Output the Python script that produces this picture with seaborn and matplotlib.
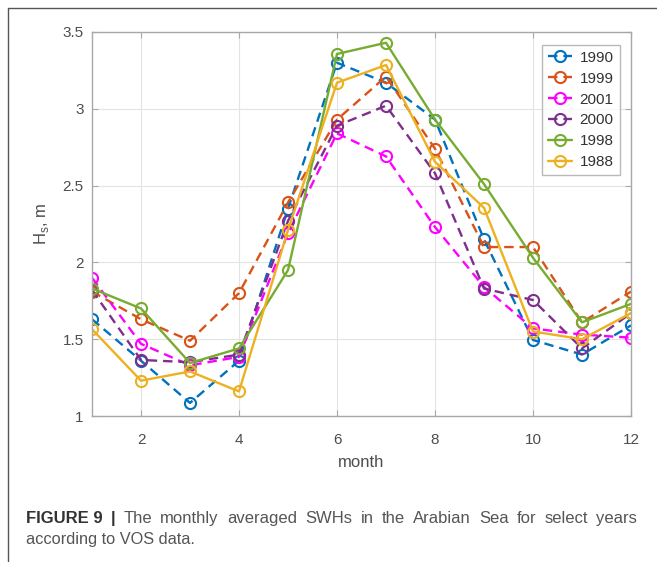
import numpy as np
import pandas as pd
import matplotlib
matplotlib.use("Agg")
import matplotlib.pyplot as plt
import seaborn as sns
from matplotlib.lines import Line2D

months = list(range(1, 13))
years = ["1990", "1999", "2001", "2000", "1998", "1988"]
v1990 = [1.63, 1.36, 1.085, 1.36, 2.35, 3.30, 3.17, 2.93, 2.15, 1.495, 1.40, 1.59]
v1999 = [1.81, 1.63, 1.49, 1.80, 2.39, 2.93, 3.21, 2.74, 2.10, 2.10, 1.61, 1.81]
v2001 = [1.90, 1.47, 1.33, 1.385, 2.19, 2.84, 2.69, 2.23, 1.84, 1.57, 1.53, 1.51]
v2000 = [1.82, 1.365, 1.35, 1.40, 2.27, 2.89, 3.02, 2.58, 1.83, 1.755, 1.44, 1.67]
v1998 = [1.83, 1.70, 1.345, 1.44, 1.95, 3.357, 3.43, 2.93, 2.51, 2.03, 1.61, 1.73]
v1988 = [1.565, 1.23, 1.29, 1.16, 2.21, 3.17, 3.285, 2.655, 2.355, 1.55, 1.50, 1.67]
series = [v1990, v1999, v2001, v2000, v1998, v1988]

colors = ["#0072BD", "#D95319", "#FF00FF", "#7E2F8E", "#77AC30", "#EDB120"]
dashed = [True, True, True, True, False, False]

caption_bold = ["FIGURE 9", "|"]
caption_line1 = "The monthly averaged SWHs in the Arabian Sea for select years"
caption_line2 = "according to VOS data."

sns.set_theme(style="whitegrid")
plt.rcParams["font.family"] = ["Liberation Sans", "DejaVu Sans"]

W, H = 657, 562
fig = plt.figure(figsize=(W/100, H/100), dpi=100)
ax = fig.add_axes([92/W, 1-416/H, (631-92)/W, (416-32)/H])

for yr, vals, c, d in zip(years, series, colors, dashed):
    df = pd.DataFrame({"month": months, "H": vals})
    sns.lineplot(data=df, x="month", y="H", ax=ax, color=c,
                 marker="o", markersize=8, markerfacecolor="none",
                 markeredgecolor=c, markeredgewidth=1.5, linewidth=1.7,
                 label=yr)
    if d:
        ax.lines[-1].set_linestyle((0, (4, 2.5)))

ax.set_xlim(1, 12)
ax.set_ylim(1, 3.5)
ax.set_xticks([2, 4, 6, 8, 10, 12])
ax.set_yticks([1, 1.5, 2, 2.5, 3, 3.5])
ax.set_yticklabels(["1", "1.5", "2", "2.5", "3", "3.5"])
ax.set_facecolor("white")
ax.grid(True, color="#e3e3e3", linewidth=0.8)
for s in ax.spines.values():
    s.set_color("#a8a8a8")
    s.set_linewidth(1.0)
ax.tick_params(axis="both", direction="in", length=4, width=0.8, color="#a8a8a8",
               labelsize=11, labelcolor="#4d4d4d")
ax.tick_params(axis="x", pad=12)
ax.tick_params(axis="y", pad=6)
ax.tick_params(axis="both", which="both", top=True, right=True, bottom=True, left=True)
ax.set_xlabel("month", fontsize=12, color="#4d4d4d", labelpad=6)
ax.set_ylabel("H$_\\mathregular{s}$, m", fontsize=12, color="#4d4d4d", labelpad=8)

leg = ax.legend(loc="upper right", bbox_to_anchor=(0.985, 0.975), fontsize=11,
                frameon=True, fancybox=False, edgecolor="#a8a8a8",
                handlelength=1.6, handletextpad=0.5, borderpad=0.4,
                labelspacing=0.45, borderaxespad=0.2)
leg.get_frame().set_linewidth(1.0)
for t in leg.get_texts():
    t.set_color("#333333")

# figure frame (top and left)
fig.add_artist(Line2D([8/W, 1], [1-8/H, 1-8/H], color="#555555", linewidth=1.0))
fig.add_artist(Line2D([8/W, 8/W], [0, 1-8/H], color="#555555", linewidth=1.0))

# justified caption line 1
renderer = fig.canvas.get_renderer()
x0, x1 = 26, 637
y1 = 1 - 523/H
tokens = [(w, True) for w in caption_bold] + [(w, False) for w in caption_line1.split()]
arts = []
for word, bold in tokens:
    t = fig.text(0, y1, word, fontsize=12,
                 fontweight="bold" if bold else "normal",
                 color="#333333" if bold else "#555555", va="baseline")
    arts.append(t)
widths = [a.get_window_extent(renderer).width for a in arts]
gap = (x1 - x0 - sum(widths)) / (len(arts) - 1)
x = x0
for a, w in zip(arts, widths):
    a.set_x(x / W)
    x += w + gap
fig.text(x0/W, 1 - 544/H, caption_line2, fontsize=11.8, color="#555555", va="baseline")

fig.savefig("out.png", dpi=100)
